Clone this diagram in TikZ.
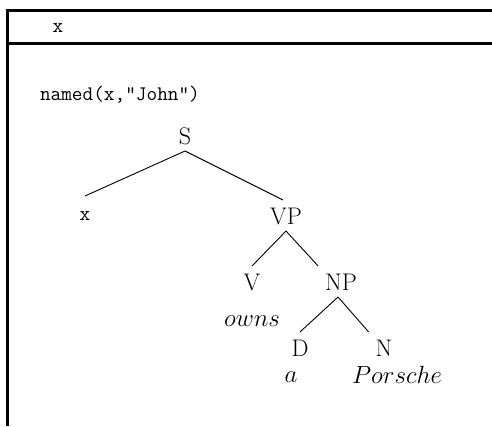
\documentclass[tikz,border=0pt]{standalone}
\begin{document}
\begin{tikzpicture}[x=1pt, y=-1pt,
    cat/.style = {font=\fontsize{24}{28}\selectfont, anchor=base, inner sep=0pt, outer sep=7pt, text height=17pt, text depth=0pt},
    word/.style = {font=\fontsize{24}{28}\selectfont, anchor=base, inner sep=0pt},
    var/.style = {font=\ttfamily\fontsize{20.7}{24}\selectfont, anchor=base, inner sep=0pt, outer sep=7pt, text height=17pt, text depth=0pt},
    branch/.style = {line width=0.9pt},
    frame/.style = {line width=2.8pt}]
    \useasboundingbox (0, 0) rectangle (492, 426);

    % the box
    \draw [frame] (492, 10.5) -- (7.5, 10.5) -- (7.5, 426);
    \draw [frame] (7.5, 43.5) -- (492, 43.5);
    \node [var] (ref) at (58, 32) {x};
    \node [var, anchor = base west, outer sep = 0pt] (cond) at (40, 100) {named(x,"John")};

    % the tree
    \node [cat] (S) at (185, 144) {S};
    \node [var] (xl) at (85, 220) {x};
    \node [cat] (VP) at (286, 224) {VP};
    \node [cat] (V) at (252, 290) {V};
    \node [cat] (NP) at (341, 290) {NP};
    \node [cat] (D) at (300, 356) {D};
    \node [cat] (N) at (384, 356) {N};
    \node [word] (owns) at (252, 326) {$owns$};
    \node [word] (a) at (291, 382) {$a$};
    \node [word] (porsche) at (397, 383) {$Porsche$};

    \draw [branch] (S.south) -- (xl.north);
    \draw [branch] (S.south) -- ([xshift = -3pt] VP.north);
    \draw [branch] (VP.south) -- (V.north);
    \draw [branch] (VP.south) -- (NP.north west);
    \draw [branch] ([xshift = -3pt] NP.south) -- (D.north);
    \draw [branch] ([xshift = -3pt] NP.south) -- (N.north west);
  \end{tikzpicture}
\end{document}
